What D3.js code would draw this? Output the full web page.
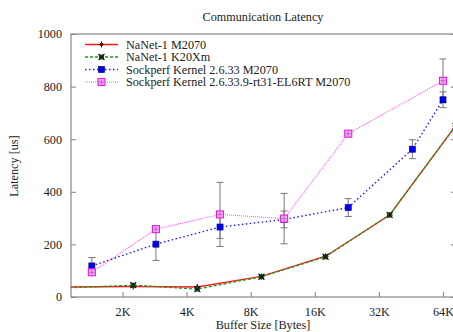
<!DOCTYPE html>
<html><head><meta charset="utf-8">
<script src="https://cdn.jsdelivr.net/npm/d3@7"></script>
<style>
body{margin:0;background:#fff;}
svg{display:block;font-family:"Liberation Serif","DejaVu Serif",serif;}
</style></head>
<body><svg id="c" width="453" height="332"></svg>
<script>
const title = "Communication Latency";
const xLabel = "Buffer Size [Bytes]";
const yLabel = "Latency [us]";
const xTicks = [2048, 4096, 8192, 16384, 32768, 65536];
const xTickLabels = ["2K", "4K", "8K", "16K", "32K", "64K"];
const yTicks = [0, 200, 400, 600, 800, 1000];

const nanetX = [1150, 2300, 4600, 9200, 18400, 36800, 75000];
const nanetM2070 = [38, 40, 38, 78, 155, 312, 650];
const nanetK20 = [35, 45, 30, 77, 153, 312, 650];

const sockX = [1470, 2940, 5880, 11760, 23520, 47040, 65536];
const sockY = [118, 201, 266, 295, 340, 562, 750];
const sockErr = [32, 62, 43, 32, 34, 36, 30];

const rtX = [1470, 2940, 5880, 11760, 23520, 65536];
const rtY = [94, 258, 314, 298, 621, 822];
const rtErr = [6, 6, 122, 96, 5, 83];

const seriesNames = ["NaNet-1 M2070", "NaNet-1 K20Xm", "Sockperf Kernel 2.6.33 M2070", "Sockperf Kernel 2.6.33.9-rt31-EL6RT M2070"];

const svg = d3.select("#c");
const L = 71, R = 456, T = 34, B = 297;
const x = d3.scaleLog().base(2).domain([2048 * Math.pow(2, -51.5/64.1), 2048 * Math.pow(2, (R-122.5)/64.1)]).range([L, R]);
const y = d3.scaleLinear().domain([0, 1000]).range([B, T]);

svg.append("defs").append("clipPath").attr("id","clip")
  .append("rect").attr("x",L).attr("y",T).attr("width",R-L).attr("height",B-T);

const axisCol = "#888";
svg.append("rect").attr("x",L).attr("y",T).attr("width",R-L).attr("height",B-T)
  .attr("fill","none").attr("stroke",axisCol).attr("stroke-width",1.2);

const fs = 12.2;
const xa = svg.append("g").attr("transform",`translate(0,${B})`)
  .call(d3.axisBottom(x).tickValues(xTicks).tickFormat((d,i)=>xTickLabels[i]).tickSize(-5).tickPadding(10));
const ya = svg.append("g").attr("transform",`translate(${L},0)`)
  .call(d3.axisLeft(y).tickValues(yTicks).tickFormat(d3.format("d")).tickSize(-5).tickPadding(9));
const ya2 = svg.append("g").attr("transform",`translate(${R},0)`)
  .call(d3.axisRight(y).tickValues(yTicks).tickSize(-5).tickFormat(""));
[xa,ya,ya2].forEach(g=>{
  g.select(".domain").remove();
  g.selectAll(".tick line").attr("stroke",axisCol).attr("stroke-width",1.1);
  g.selectAll("text").attr("font-family","Liberation Serif, serif").attr("font-size",fs).attr("fill","#222");
});

svg.append("text").attr("x",263).attr("y",21).attr("text-anchor","middle")
  .attr("font-size",fs).attr("fill","#222").text(title);
svg.append("text").attr("x",263).attr("y",329).attr("text-anchor","middle")
  .attr("font-size",fs).attr("fill","#222").text(xLabel);
svg.append("text").attr("transform","translate(18,166) rotate(-90)").attr("text-anchor","middle")
  .attr("font-size",fs).attr("fill","#222").text(yLabel);

const plot = svg.append("g").attr("clip-path","url(#clip)");
const line = d3.line().x(d=>x(d[0])).y(d=>y(d[1]));

function errbars(xs, ys, es){
  const g = plot.append("g").attr("stroke","#777").attr("stroke-width",1);
  xs.forEach((xv,i)=>{
    const cx = x(xv), y1 = y(ys[i]-es[i]), y2 = y(ys[i]+es[i]);
    g.append("line").attr("x1",cx).attr("x2",cx).attr("y1",y1).attr("y2",y2);
    g.append("line").attr("x1",cx-3.5).attr("x2",cx+3.5).attr("y1",y1).attr("y2",y1);
    g.append("line").attr("x1",cx-3.5).attr("x2",cx+3.5).attr("y1",y2).attr("y2",y2);
  });
}

const styles = [
  {col:"#ff1a1a", dash:null, w:1.3, xs:nanetX, ys:nanetM2070, mark:"plus"},
  {col:"#1a9a1a", dash:"3,2", w:1.3, xs:nanetX, ys:nanetK20, mark:"cross"},
  {col:"#1a1aff", dash:"1.5,2.5", w:1.4, xs:sockX, ys:sockY, mark:"fsq"},
  {col:"#ff55ff", dash:"1,1", w:1.1, xs:rtX, ys:rtY, mark:"osq"}
];

function marker(g, cx, cy, s){
  if(s.mark==="plus"){
    g.append("circle").attr("cx",cx).attr("cy",cy).attr("r",1.8).attr("fill","#6a1010");
    g.append("path").attr("d",`M${cx-3},${cy}H${cx+3}M${cx},${cy-3}V${cy+3}`).attr("stroke","#5a0a0a").attr("stroke-width",1.1);
  } else if(s.mark==="cross"){
    g.append("rect").attr("x",cx-2.5).attr("y",cy-2.5).attr("width",5).attr("height",5).attr("fill","#2a4a2a");
    g.append("path").attr("d",`M${cx-3},${cy-3}L${cx+3},${cy+3}M${cx-3},${cy+3}L${cx+3},${cy-3}`).attr("stroke","#0a200a").attr("stroke-width",1.1);
  } else if(s.mark==="fsq"){
    g.append("rect").attr("x",cx-3).attr("y",cy-3).attr("width",6).attr("height",6).attr("fill","#0000ee").attr("stroke","#000090").attr("stroke-width",0.7);
  } else {
    g.append("rect").attr("x",cx-3.5).attr("y",cy-3.5).attr("width",7).attr("height",7).attr("fill","#ffa8ff").attr("stroke","#e020e0").attr("stroke-width",1.1);
    g.append("path").attr("d",`M${cx-2.5},${cy}H${cx+2.5}M${cx},${cy-2.5}V${cy+2.5}`).attr("stroke","#a050a0").attr("stroke-width",0.7);
  }
}

errbars(sockX, sockY, sockErr);
errbars(rtX, rtY, rtErr);

const [x0, x1] = x.domain();
[0,1,2,3].forEach(k=>{
  const s = styles[k];
  const pts = s.xs.map((v,i)=>[v,s.ys[i]]);
  const p = plot.append("path").datum(pts).attr("d",line).attr("fill","none")
    .attr("stroke",s.col).attr("stroke-width",s.w);
  if(s.dash) p.attr("stroke-dasharray",s.dash);
  const g = plot.append("g");
  pts.filter(d=>d[0]>=x0 && d[0]<=x1).forEach(d=>marker(g, x(d[0]), y(d[1]), s));
});

const lg = svg.append("g");
const rows = [44.5, 57, 69.5, 82];
styles.forEach((s,i)=>{
  const yy = rows[i];
  const l = lg.append("line").attr("x1",85).attr("x2",118).attr("y1",yy).attr("y2",yy)
    .attr("stroke",s.col).attr("stroke-width",s.w);
  if(s.dash) l.attr("stroke-dasharray",s.dash);
  marker(lg, 101.5, yy, s);
  lg.append("text").attr("x",126).attr("y",yy+4.2).attr("font-size",fs).attr("fill","#222").text(seriesNames[i]);
});
</script></body></html>
